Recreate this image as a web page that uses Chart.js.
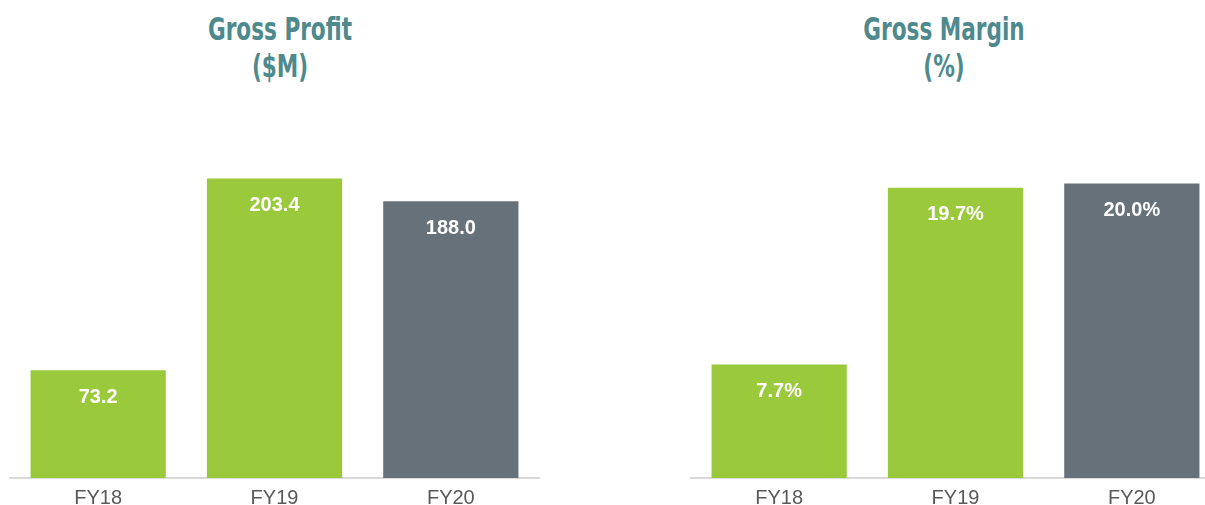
<!DOCTYPE html>
<html>
<head>
<meta charset="utf-8">
<script src="https://cdn.jsdelivr.net/npm/chart.js@4"></script>
<style>
  html, body { margin: 0; padding: 0; background: #fff; width: 1205px; height: 505px; overflow: hidden; position: relative; }
  .title { position: absolute; top: 11px; width: 300px; text-align: center; color: #4e898e;
           font-family: "DejaVu Sans Condensed", "DejaVu Sans", sans-serif; font-weight: bold;
           font-size: 24px; line-height: 29px; transform: scaleY(1.3); transform-origin: top center; }
  .box { position: absolute; top: 0; width: 549px; height: 520px; }
</style>
</head>
<body>
<div class="title" style="left:130px">Gross Profit<br>($M)</div>
<div class="title" style="left:794px">Gross Margin<br>(%)</div>
<div class="box" style="left:0px"><canvas id="profitChart"></canvas></div>
<div class="box" style="left:681px"><canvas id="marginChart"></canvas></div>
<script>
// fiscal years and values
const years = ['FY18', 'FY19', 'FY20'];
const grossProfit = [73.2, 203.4, 188.0];
const grossMargin = [7.7, 19.7, 20.0];
const barColors = ['#9aca3c', '#9aca3c', '#67717a'];

// white value labels just inside the top of each bar
const innerLabels = {
    id: 'innerLabels',
    afterDatasetsDraw(chart, args, opts) {
        const ctx = chart.ctx;
        const meta = chart.getDatasetMeta(0);
        ctx.save();
        ctx.fillStyle = '#ffffff';
        ctx.font = 'bold 20px "Liberation Sans", Arial, sans-serif';
        ctx.textAlign = 'center';
        ctx.textBaseline = 'middle';
        meta.data.forEach((bar, i) => {
            const v = chart.data.datasets[0].data[i];
            ctx.fillText(v.toFixed(1) + (opts.suffix || ''), bar.x, bar.y + 27);
        });
        ctx.restore();
    }
};

function makeChart(id, values, maxY, suffix) {
    return new Chart(document.getElementById(id).getContext('2d'), {
        type: 'bar',
        data: { labels: years, datasets: [{ data: values, backgroundColor: barColors, barPercentage: 0.767, categoryPercentage: 1 }] },
        options: {
            responsive: false,
            animation: false,
            layout: { padding: { top: 154, left: 10, right: 10, bottom: 0 } },
            plugins: { legend: { display: false }, tooltip: { enabled: false }, title: { display: false }, innerLabels: { suffix: suffix } },
            scales: {
                x: {
                    grid: { display: false },
                    border: { display: true, color: '#d9d9d9', width: 2 },
                    ticks: { color: '#595959', font: { family: '"Liberation Sans", Arial, sans-serif', size: 20 }, padding: 0 },
                    afterFit: s => { s.height = 42; }
                },
                y: { display: false, min: 0, max: maxY }
            }
        },
        plugins: [innerLabels]
    });
}

const c1 = document.getElementById('profitChart');
const c2 = document.getElementById('marginChart');
[c1, c2].forEach(c => { c.width = 549; c.height = 520; });
makeChart('profitChart', grossProfit, 220, '');
makeChart('marginChart', grossMargin, 22, '%');
</script>
</body>
</html>
